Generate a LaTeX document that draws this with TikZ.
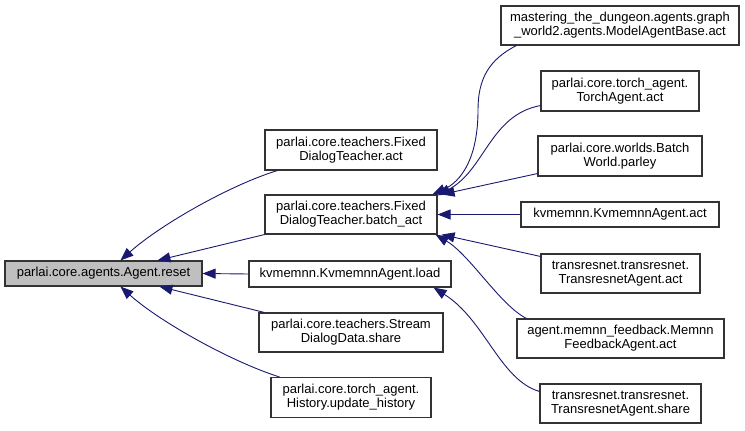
\documentclass[tikz,border=0pt]{standalone}
\usepackage{fontspec}
\setmainfont{Liberation Sans}
\usetikzlibrary{arrows.meta,calc}
\definecolor{edgeblue}{HTML}{191970}
\definecolor{boxgray}{HTML}{BFBFBF}
\definecolor{boxline}{HTML}{333333}
\begin{document}
\begin{tikzpicture}[x=1pt,y=-1pt,
  box/.style={draw=boxline,line width=1.1pt,fill=white,rectangle,inner sep=0pt,align=center,
    font=\fontsize{13}{14}\selectfont},
  edge/.style={draw=edgeblue,line width=0.9pt,-{Triangle[length=13pt,width=10pt]}}]
\useasboundingbox (0,0) rectangle (745,431);
% left
\node[box,fill=boxgray,minimum width=197pt,minimum height=25pt] (reset) at (103.5,273.5) {parlai.core.agents.Agent.reset};
% middle
\node[box,minimum width=172pt,minimum height=40pt] (fdtact) at (351,150) {parlai.core.teachers.Fixed\\DialogTeacher.act};
\node[box,minimum width=172pt,minimum height=39pt] (batch) at (351,214.5) {parlai.core.teachers.Fixed\\DialogTeacher.batch\_act};
\node[box,minimum width=202pt,minimum height=26pt] (load) at (350,274) {kvmemnn.KvmemnnAgent.load};
\node[box,minimum width=184pt,minimum height=39pt] (stream) at (351,332.5) {parlai.core.teachers.Stream\\DialogData.share};
\node[box,minimum width=160pt,minimum height=40pt] (history) at (351,397.5) {parlai.core.torch\_agent.\\History.update\_history};
% right
\node[box,minimum width=238pt,minimum height=39pt] (mab) at (620,25.5) {mastering\_the\_dungeon.agents.graph\\\_world2.agents.ModelAgentBase.act};
\node[box,minimum width=158pt,minimum height=40pt] (torch) at (620,91) {parlai.core.torch\_agent.\\TorchAgent.act};
\node[box,minimum width=164pt,minimum height=40pt] (bw) at (620,156) {parlai.core.worlds.Batch\\World.parley};
\node[box,minimum width=198pt,minimum height=25pt] (kvact) at (620,214.5) {kvmemnn.KvmemnnAgent.act};
\node[box,minimum width=159pt,minimum height=39pt] (tact) at (620.5,273.5) {transresnet.transresnet.\\TransresnetAgent.act};
\node[box,minimum width=207pt,minimum height=39pt] (memnn) at (620.5,338.5) {agent.memnn\_feedback.Memnn\\FeedbackAgent.act};
\node[box,minimum width=161pt,minimum height=39pt] (tshare) at (620.5,403.5) {transresnet.transresnet.\\TransresnetAgent.share};
% edges into reset
\draw[edge] ($(fdtact.south west)+(13,0)$) .. controls (230,185) and (160,225) .. ($(reset.north west)+(116,0)$);
\draw[edge] (batch.south west) -- ($(reset.north west)+(153,0)$);
\draw[edge] (load.west) -- (reset.east);
\draw[edge] ($(stream.north west)+(6,0)$) -- ($(reset.south west)+(155,0)$);
\draw[edge] ($(history.north west)+(9,0)$) .. controls (232,362) and (160,322) .. ($(reset.south west)+(116,0)$);
% edges into batch
\draw[edge] ($(mab.south west)+(16,0)$) .. controls (488,60) and (478,80) .. (478,110) .. controls (478,160) and (460,182) .. ($(batch.north east)+(-5,0)$);
\draw[edge] ($(torch.south west)+(0,-6)$) .. controls (490,115) and (485,170) .. ($(batch.north east)+(0,1)$);
\draw[edge] ($(bw.south west)+(0,-3)$) -- ($(batch.north east)+(4,0)$);
\draw[edge] (kvact.west) -- (batch.east);
\draw[edge] ($(tact.north west)+(0,3)$) -- ($(batch.south east)+(4,0)$);
\draw[edge] ($(memnn.north west)+(10,0)$) .. controls (500,305) and (470,255) .. ($(batch.south east)+(-2,0)$);
% edge into load
\draw[edge] ($(tshare.north west)+(0,8)$) .. controls (500,380) and (485,320) .. ($(load.south east)+(-18,0)$);
\end{tikzpicture}
\end{document}
